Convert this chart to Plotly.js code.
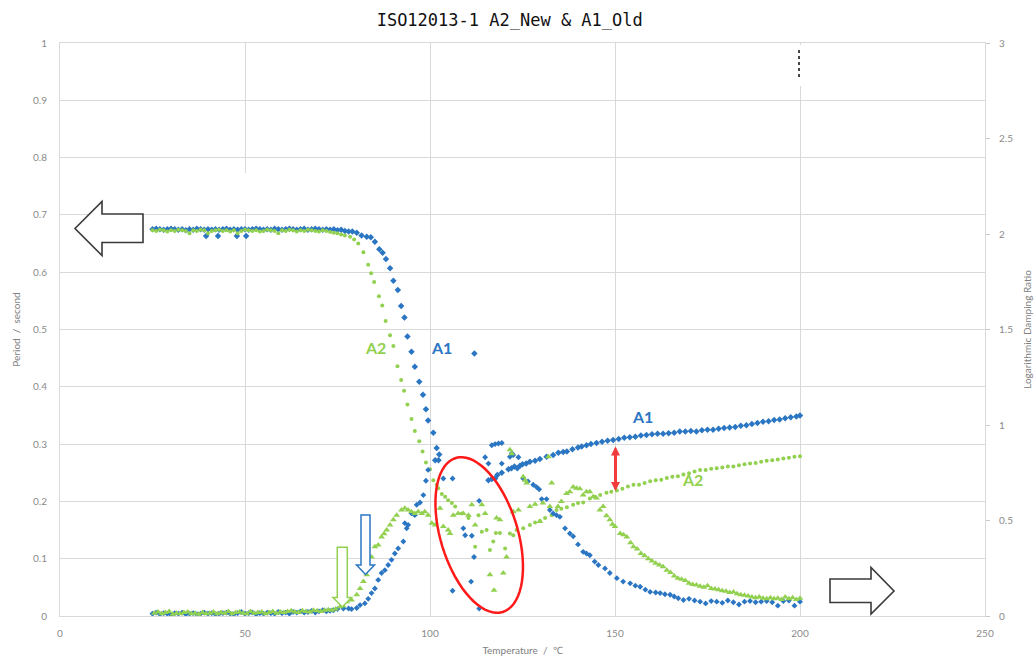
<!DOCTYPE html>
<html><head><meta charset="utf-8">
<script src="https://cdn.plot.ly/plotly-3.0.1.min.js"></script>
<style>html,body{margin:0;padding:0;background:#fff}#chart{width:1036px;height:662px}</style>
</head><body><div id="chart"></div>
<script>
// ---- data: [temperature (℃), value] ----
// A1 (old) period, seconds (left axis)
const a1Period = [[25,0.675],[26,0.676],[27,0.675],[28,0.674],[29,0.675],[30,0.676],[31,0.675],[32,0.674],[33,0.675],[34,0.673],
[35,0.675],[36,0.674],[37,0.676],[38,0.675],[39,0.674],[40,0.675],[41,0.674],[42,0.675],[43,0.674],[44,0.675],[45,0.676],[46,0.674],
[47,0.675],[48,0.674],[49,0.675],[50,0.675],[51,0.674],[52,0.675],[53,0.676],[54,0.675],[55,0.674],[56,0.675],[57,0.674],[58,0.676],
[59,0.675],[60,0.674],[61,0.675],[62,0.676],[63,0.675],[64,0.674],[65,0.675],[66,0.676],[67,0.674],[68,0.675],[69,0.676],[70,0.675],
[71,0.674],[72,0.675],[73,0.674],[74,0.675],[75,0.673],[76,0.674],[77,0.672],[78,0.671],[79,0.671],
[39.5,0.663],[42.7,0.663],[47.8,0.663],[50.3,0.663],
[80.2,0.669],[81.5,0.664],[82.9,0.662],[84,0.661],[85.1,0.653],[86.3,0.640],[87.2,0.634],[88.1,0.623],[89.2,0.607],[90.1,0.585],
[91.3,0.569],[92.2,0.541],[93.1,0.521],[93.9,0.488],[95,0.461],[95.9,0.435],[97.1,0.409],[98.1,0.386],[98.9,0.361],[99.5,0.341],
[100.9,0.320],[101.4,0.272],[101.8,0.293],[102.3,0.272],[102.5,0.282],[112,0.458],
[115.8,0.237],[116.7,0.239],[117.6,0.240],[118.2,0.246],[119.4,0.250],[121.2,0.256],[122,0.258],[122.8,0.261],[123.6,0.258],[124.3,0.262],
[125,0.265],[126,0.266],[127,0.269],[128.4,0.271],[129.7,0.274],[131.5,0.278],[133.3,0.281],[134.7,0.285],[136,0.286],[137,0.287],
[138.5,0.291],[140,0.294],[141,0.296],[142.3,0.298],[143.5,0.300],[145,0.302],[146.5,0.304],[148,0.306],[149.5,0.307],[151,0.309],
[152.5,0.311],[154,0.312],[155.5,0.313],[157,0.315],[158.5,0.316],[160,0.317],[161.5,0.318],[163,0.318],[164.5,0.319],[166,0.320],
[167.5,0.322],[169,0.322],[170.5,0.323],[172,0.322],[173.5,0.324],[175,0.325],[176.5,0.325],[178,0.327],[179.5,0.328],[181,0.329],
[182.5,0.330],[184,0.332],[185.5,0.333],[187,0.335],[188.5,0.337],[190,0.339],[191.5,0.340],[193,0.342],[194.5,0.343],[196,0.345],
[197.5,0.347],[199,0.348],[200,0.350]];

// A2 (new) period, seconds (left axis)
const a2Period = [[25,0.673],[26,0.672],[27,0.674],[28,0.673],[29,0.671],[30,0.673],[31,0.672],[32,0.674],[33,0.673],[34,0.672],
[35,0.668],[36,0.673],[37,0.672],[38,0.674],[39,0.673],[40,0.668],[41,0.672],[42,0.673],[43,0.674],[44,0.672],[45,0.673],[46,0.671],
[47,0.673],[48,0.668],[49,0.672],[50,0.674],[51,0.673],[52,0.672],[53,0.673],[54,0.671],[55,0.672],[56,0.674],[57,0.673],[58,0.672],
[59,0.668],[60,0.673],[61,0.672],[62,0.674],[63,0.673],[64,0.671],[65,0.673],[66,0.672],[67,0.674],[68,0.673],[69,0.672],[70,0.671],
[71,0.673],[72,0.672],[73,0.670],[74,0.669],[75,0.668],[76,0.666],[77,0.664],
[78.4,0.662],[79.5,0.657],[80.6,0.650],[82,0.635],[83.3,0.613],[84.1,0.598],[84.9,0.583],[86.2,0.558],[87.1,0.542],[88,0.515],
[89.2,0.490],[90.1,0.471],[91.2,0.436],[92.2,0.412],[93,0.393],[93.9,0.369],[95,0.344],[95.9,0.323],[97.1,0.305],[98,0.287],
[98.9,0.268],[100,0.256],[100.9,0.237],[101.8,0.229],[102.2,0.223],[103.2,0.213],[104.1,0.208],[104.9,0.202],[105.9,0.197],[106.8,0.191],
[108.6,0.179],[110.4,0.171],[112.2,0.121],[113.1,0.176],[114,0.147],[115.3,0.150],[116.2,0.115],[117.1,0.130],[117.8,0.145],[118.9,0.145],
[120.3,0.118],[121.6,0.144],[122.5,0.141],[123.4,0.150],[125.2,0.153],[127,0.159],[128.4,0.163],[129.7,0.166],[131.1,0.171],[132.9,0.176],
[134.2,0.185],[135.5,0.187],[137,0.190],[138.7,0.194],[140,0.197],[141.4,0.198],[143.2,0.205],[144.5,0.208],[146,0.211],[147.7,0.215],
[149,0.217],[150.5,0.219],[152,0.222],[153.5,0.226],[155,0.229],[156.5,0.229],[158,0.232],[159.5,0.235],[161,0.237],[162.5,0.238],
[164,0.241],[165.5,0.243],[167,0.244],[168.5,0.247],[170,0.249],[171.5,0.252],[173,0.255],[174.5,0.255],[176,0.257],[177.5,0.258],
[179,0.259],[180.5,0.261],[182,0.261],[183.5,0.263],[185,0.265],[186.5,0.266],[188,0.267],[189.5,0.269],[191,0.271],[192.5,0.272],
[194,0.273],[195.5,0.275],[197,0.276],[198.5,0.278],[200,0.279]];

// A1 (old) logarithmic damping ratio (right axis)
const a1Damping = [[25,0.012],[26,0.018],[27,0.009],[28,0.015],[29,0.012],[30,0.006],[31,0.015],[32,0.012],[33,0.018],[34,0.009],
[35,0.012],[36,0.015],[37,0.009],[38,0.012],[39,0.018],[40,0.012],[41,0.015],[42,0.009],[43,0.012],[44,0.015],[45,0.018],[46,0.012],
[47,0.009],[48,0.015],[49,0.021],[50,0.012],[51,0.015],[52,0.018],[53,0.009],[54,0.015],[55,0.012],[56,0.018],[57,0.015],[58,0.012],
[59,0.021],[60,0.015],[61,0.018],[62,0.012],[63,0.021],[64,0.018],[65,0.024],[66,0.018],[67,0.021],[68,0.027],[69,0.018],[70,0.024],
[71,0.030],[72,0.024],[73,0.027],
[73.9,0.030],[75,0.036],[76.6,0.039],[78,0.039],[78.8,0.036],[80.2,0.042],[81.1,0.057],[82.4,0.066],[83.3,0.090],[84.2,0.120],
[85.1,0.144],[86,0.189],[86.9,0.225],[87.8,0.240],[88.7,0.267],[89.6,0.294],[90.5,0.327],[91.4,0.354],[92.8,0.390],[93.2,0.486],
[93.7,0.459],[94.1,0.477],[95,0.537],[95.9,0.528],[96.4,0.582],[97.3,0.594],[98.2,0.633],[98.9,0.708],[99.5,0.765],
[103.6,0.720],[106.1,0.720],[106.1,0.132],[109,0.459],[109.5,0.423],[111.3,0.420],[111.9,0.309],[111.1,0.180],[113.3,0.039],[113.3,0.603],
[114.9,0.831],[115.8,0.798],[116.7,0.894],[117.6,0.900],[118.5,0.903],[119.4,0.906],[119.4,0.798],[121.6,0.834],[122.1,0.852],[122.5,0.843],
[123.9,0.831],[125.2,0.720],[126.5,0.705],[127.9,0.687],[128.8,0.675],[129.5,0.663],[130.2,0.612],[131.5,0.612],[132.4,0.555],[133.3,0.537],
[134.2,0.528],[135.1,0.519],[136.5,0.459],[137.8,0.432],[138.7,0.417],[140,0.375],[141.4,0.336],[142.3,0.327],[143.2,0.318],[144.5,0.285],
[145.5,0.267],[147.3,0.249],[148.6,0.225],[150.5,0.198],[152.2,0.180],[154.1,0.171],[155.5,0.159],[156.8,0.153],[158.2,0.138],[159.5,0.126],
[161,0.123],[162.2,0.120],[163.5,0.114],[164.9,0.111],[166,0.102],[167.1,0.093],[168.5,0.084],[170,0.090],[171.5,0.081],[173,0.075],
[174.5,0.066],[176,0.078],[177.5,0.075],[179,0.069],[180.5,0.081],[182,0.072],[183.5,0.060],[185,0.075],[186.5,0.078],[188,0.072],
[189.5,0.075],[191,0.078],[192.5,0.072],[194,0.054],[195.5,0.078],[197,0.081],[198.5,0.054],[200,0.075]];

// A2 (new) logarithmic damping ratio (right axis)
const a2Damping = [[25.5,0.015],[26.5,0.021],[27.5,0.012],[28.5,0.018],[29.5,0.024],[30.5,0.009],[31.5,0.015],[32.5,0.012],[33.5,0.018],
[34.5,0.021],[35.5,0.012],[36.5,0.015],[37.5,0.009],[38.5,0.018],[39.5,0.012],[40.5,0.015],[41.5,0.021],[42.5,0.012],[43.5,0.018],
[44.5,0.015],[45.5,0.024],[46.5,0.012],[47.5,0.018],[48.5,0.021],[49.5,0.015],[50.5,0.012],[51.5,0.024],[52.5,0.015],[53.5,0.018],
[54.5,0.021],[55.5,0.012],[56.5,0.018],[57.5,0.024],[58.5,0.015],[59.5,0.021],[60.5,0.018],[61.5,0.024],[62.5,0.027],[63.5,0.021],
[64.5,0.018],[65.5,0.027],[66.5,0.024],[67.5,0.021],[68.5,0.030],[69.5,0.027],[70.5,0.024],[71.5,0.030],[72.5,0.033],[73.5,0.030],[74.5,0.036],
[75.7,0.048],[76.5,0.054],[77.5,0.075],[78.8,0.084],[80.2,0.111],[81.1,0.144],[82,0.180],[82.9,0.216],[83.5,0.255],[84.2,0.309],
[85.1,0.363],[86,0.372],[86.9,0.414],[87.6,0.430],[88.3,0.450],[89.2,0.477],[90.1,0.504],[91,0.528],[92.3,0.555],[93.2,0.564],
[94.1,0.555],[95,0.546],[95.9,0.537],[96.8,0.546],[97.8,0.537],[98.6,0.546],[99.5,0.528],[100.5,0.486],[101.4,0.477],[102.7,0.564],
[103.6,0.468],[104.9,0.450],[105.4,0.432],[106.3,0.528],[107.6,0.537],[109,0.537],[110.4,0.528],[111.3,0.582],[112.2,0.477],[114,0.582],
[114.9,0.537],[116.2,0.216],[117.3,0.135],[118,0.513],[118.9,0.504],[119.8,0.225],[120.7,0.309],[121.6,0.870],[122.1,0.849],[122.5,0.546],
[123.9,0.555],[125.2,0.729],[125.7,0.711],[126.1,0.696],[127,0.573],[128.4,0.585],[129.7,0.495],[130.5,0.591],[132,0.834],[132.4,0.573],
[132.9,0.696],[134.6,0.573],[135.5,0.600],[136.9,0.642],[137.8,0.651],[138.7,0.675],[139.6,0.669],[140.5,0.666],[141.4,0.633],[142.3,0.651],
[143.2,0.651],[144.1,0.624],[145,0.618],[145.9,0.555],[146.8,0.573],[147.7,0.525],[148.6,0.504],[149.3,0.480],[150,0.468],[151.4,0.432],
[152.3,0.426],[153.2,0.414],[154.2,0.384],[155,0.363],[156,0.351],[157,0.327],[158,0.315],[159,0.300],[160,0.288],[161,0.276],
[162,0.267],[163,0.258],[164,0.240],[165,0.228],[166,0.210],[167,0.198],[168,0.192],[169,0.186],[170,0.171],[171,0.165],
[172,0.162],[173,0.156],[174,0.150],[175,0.159],[176,0.144],[177,0.141],[178,0.138],[179,0.132],[180,0.129],[181,0.123],
[182,0.126],[183,0.117],[184,0.111],[185,0.108],[186,0.105],[187,0.099],[188,0.096],[189,0.099],[190,0.093],[191,0.090],
[192,0.096],[193,0.090],[194,0.093],[195,0.087],[196,0.099],[197,0.090],[198,0.096],[199,0.087],[200,0.093]];

const xTicks = [0, 50, 100, 150, 200, 250];
const chartTitle = 'ISO12013-1 A2_New & A1_Old';

// ---- styling ----
const BLUE = '#2b76c3', GREEN = '#92d050';
const col = (arr, i) => arr.map(p => p[i]);

const traces = [
  {x: col(a1Period,0), y: col(a1Period,1), type:'scatter', mode:'markers', name:'A1 period',
   marker:{symbol:'diamond', size:5, color:BLUE}},
  {x: col(a1Damping,0), y: col(a1Damping,1), type:'scatter', mode:'markers', name:'A1 damping', yaxis:'y2',
   marker:{symbol:'diamond', size:4.5, color:BLUE}},
  {x: col(a2Period,0), y: col(a2Period,1), type:'scatter', mode:'markers', name:'A2 period',
   marker:{symbol:'circle', size:4, color:GREEN}},
  {x: col(a2Damping,0), y: col(a2Damping,1), type:'scatter', mode:'markers', name:'A2 damping', yaxis:'y2',
   marker:{symbol:'triangle-up', size:6, color:GREEN}}
];

// pixel -> paper helpers for decorations
const L=60, R=985, T=43, B=616;
const PX = px => (px-L)/(R-L);
const PY = py => (B-py)/(B-T);
const poly = pts => 'M' + pts.map(p => PX(p[0]).toFixed(5)+','+PY(p[1]).toFixed(5)).join(' L') + ' Z';

function ellipsePath(cx, cy, a, b, angDeg){
  const th = angDeg*Math.PI/180, ux=Math.sin(th), uy=Math.cos(th), vx=Math.cos(th), vy=-Math.sin(th);
  const pts=[];
  for(let i=0;i<72;i++){const t=i/72*2*Math.PI; pts.push([cx+a*Math.cos(t)*ux+b*Math.sin(t)*vx, cy+a*Math.cos(t)*uy+b*Math.sin(t)*vy]);}
  return poly(pts);
}

const shapes = [
  // gap in the 50 gridline and artifact near top of 200 gridline
  {type:'line', xref:'paper', yref:'paper', x0:PX(245.7), x1:PX(245.7), y0:PY(173), y1:PY(212), line:{color:'#ffffff', width:3}, layer:'above'},
  {type:'line', xref:'paper', yref:'paper', x0:PX(800), x1:PX(800), y0:PY(45), y1:PY(86), line:{color:'#ffffff', width:4}, layer:'above'},
  {type:'line', xref:'paper', yref:'paper', x0:PX(799), x1:PX(799), y0:PY(50), y1:PY(80), line:{color:'#333', width:1.8, dash:'dot'}, layer:'above'},
  // left hollow arrow
  {type:'path', xref:'paper', yref:'paper', path: poly([[75,228.5],[102,201.5],[102,214],[143,214],[143,242.5],[102,242.5],[102,255.5]]),
   line:{color:'#3a3a3a', width:1.6}, fillcolor:'#ffffff', layer:'above'},
  // right hollow arrow
  {type:'path', xref:'paper', yref:'paper', path: poly([[830,579],[871,579],[871,567.5],[894,591],[871,614],[871,602.5],[830,602.5]]),
   line:{color:'#3a3a3a', width:1.6}, fillcolor:'#ffffff', layer:'above'},
  // blue down arrow
  {type:'path', xref:'paper', yref:'paper', path: poly([[361,515],[370,515],[370,565],[374.5,565],[365.5,574.5],[356.5,565],[361,565]]),
   line:{color:BLUE, width:1.5}, fillcolor:'#ffffff', layer:'above'},
  // green down arrow
  {type:'path', xref:'paper', yref:'paper', path: poly([[337.3,547.3],[347.3,547.3],[347.3,597.5],[351.5,597.5],[342.3,607],[333,597.5],[337.3,597.5]]),
   line:{color:GREEN, width:1.5}, fillcolor:'#ffffff', layer:'above'},
  // red ellipse
  {type:'path', xref:'paper', yref:'paper', path: ellipsePath(479.2, 535, 80.5, 38.6, 17),
   line:{color:'#ff1a1a', width:2.5}, layer:'above'}
];

const labFont = (c) => ({family:'Lato, "Open Sans", sans-serif', size:16, color:c, weight:'bold'});
const annotations = [
  {xref:'paper', yref:'paper', x:PX(375.5), y:PY(347.5), text:'<b>A2</b>', showarrow:false, font:labFont(GREEN)},
  {xref:'paper', yref:'paper', x:PX(441), y:PY(347.5), text:'<b>A1</b>', showarrow:false, font:labFont(BLUE)},
  {xref:'paper', yref:'paper', x:PX(642), y:PY(416), text:'<b>A1</b>', showarrow:false, font:labFont(BLUE)},
  {xref:'paper', yref:'paper', x:PX(705), y:PY(491), text:'<b>A2</b>', showarrow:false, font:labFont(GREEN)},
  {xref:'paper', yref:'paper', x:PX(615.5), y:PY(446.5), ax:0, ay:46, axref:'pixel', ayref:'pixel', text:'',
   showarrow:true, arrowside:'end+start', arrowhead:2, arrowsize:0.6, arrowwidth:3, arrowcolor:'#f23c3c'}
];

const tickFont = {family:'Lato, "Open Sans", sans-serif', size:10, color:'#8a8a8a'};
const axTitleFont = {family:'Lato, "Open Sans", sans-serif', size:10, color:'#808080'};

const layout = {
  width:1036, height:662,
  margin:{l:60, r:51, t:43, b:46},
  paper_bgcolor:'#ffffff', plot_bgcolor:'#ffffff',
  showlegend:false,
  title:{text:chartTitle, font:{family:'"DejaVu Sans Mono", monospace', size:17, color:'#111'}, x:0.492, xref:'container', y:0.969, yref:'container', yanchor:'middle', xanchor:'center'},
  xaxis:{range:[0,250], tickvals:xTicks, showgrid:true, gridcolor:'#d9d9d9', gridwidth:1, zeroline:false,
         showline:true, linecolor:'#d9d9d9', mirror:true, ticks:'', tickfont:tickFont, ticklabelstandoff:8, automargin:false,
         title:{text:'Temperature  /  ℃', font:axTitleFont, standoff:8}},
  yaxis:{range:[0,1], dtick:0.1, tick0:0, showgrid:true, gridcolor:'#d9d9d9', gridwidth:1, zeroline:false,
         showline:true, linecolor:'#d9d9d9', mirror:true, ticks:'', tickfont:tickFont, ticklabelstandoff:10, automargin:false,
         title:{text:'Period  /  second', font:axTitleFont, standoff:10}},
  yaxis2:{range:[0,3], dtick:0.5, tick0:0, overlaying:'y', side:'right', showgrid:false, zeroline:false, showline:false,
          ticks:'outside', ticklen:4, tickcolor:'#c8c8c8', tickfont:tickFont, ticklabelstandoff:7, automargin:false,
          title:{text:'Logarithmic Damping Ratio', font:axTitleFont, standoff:11}},
  shapes:shapes, annotations:annotations
};

Plotly.newPlot('chart', traces, layout, {displayModeBar:false, staticPlot:true});
</script>
</body></html>
